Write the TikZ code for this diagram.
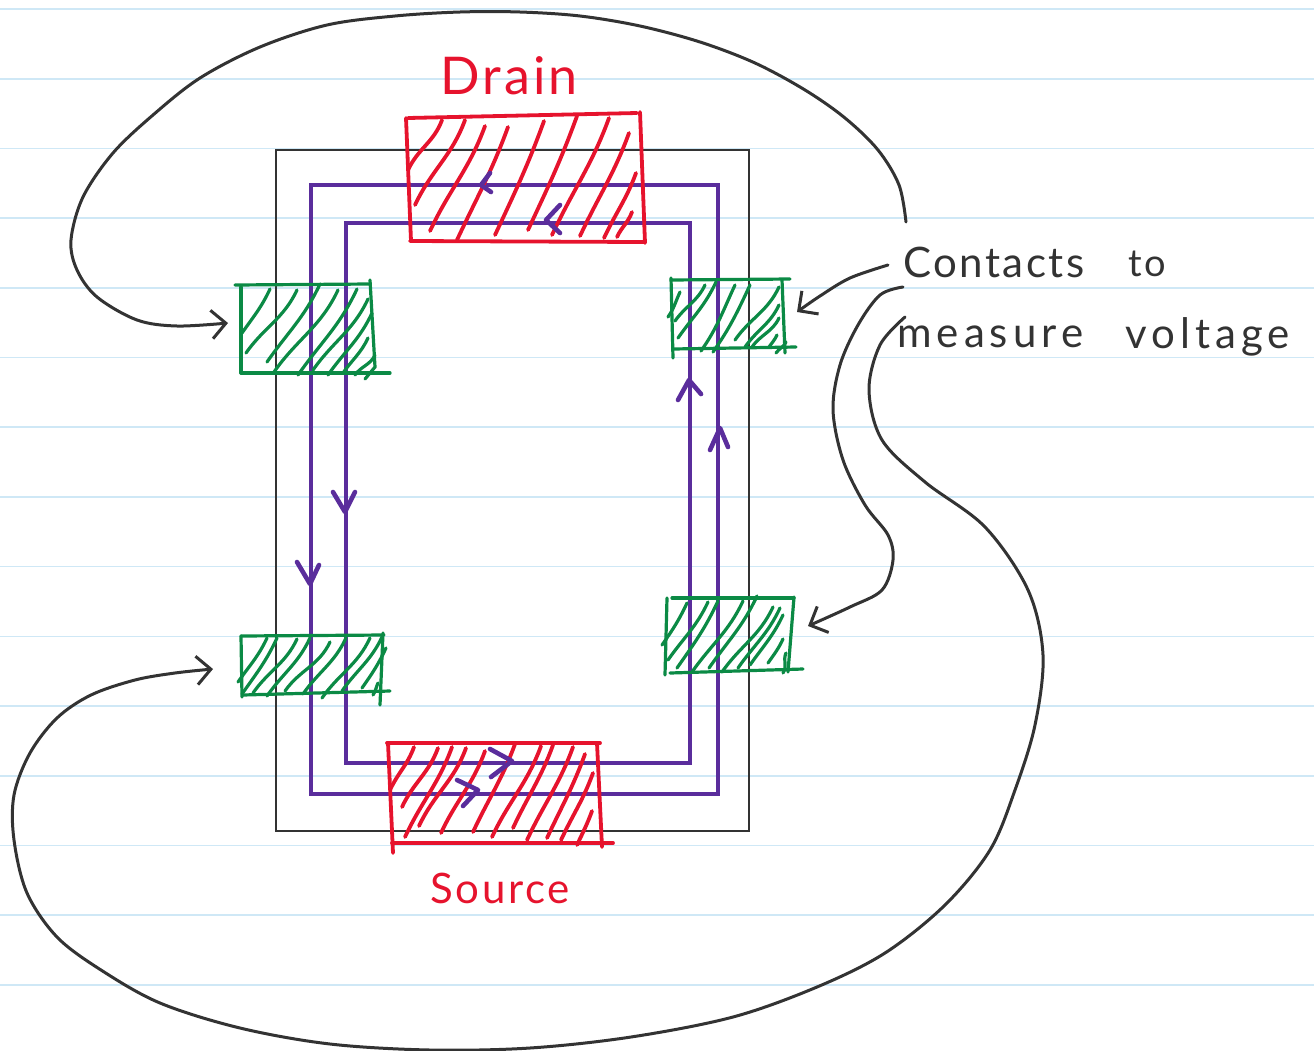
\documentclass[tikz,border=0pt]{standalone}
\usepackage{fontspec}
\usepackage{xcolor}
\usetikzlibrary{arrows.meta}
\newfontfamily\handfont[LetterSpace=6]{Lato}
\newfontfamily\widehandfont[LetterSpace=12]{Lato}
\definecolor{padred}{HTML}{E6132D}
\definecolor{padgreen}{HTML}{0B8A45}
\definecolor{flowpurple}{HTML}{5A2D9C}
\definecolor{inkgray}{HTML}{333333}
\definecolor{rulingblue}{HTML}{CFE8F6}
\tikzset{
    ruling/.style={rulingblue, line width=1.6pt},
    device/.style={inkgray, line width=2.7pt},
    channel/.style={flowpurple, line width=3.3pt},
    flowtip/.style={flowpurple, line width=4.6pt, line cap=round, line join=round},
    redpad/.style={padred, line width=3.8pt, line cap=round},
    redstroke/.style={redpad, out=250, in=65},
    greenpad/.style={padgreen, line width=3.2pt, line cap=round},
    greenstroke/.style={greenpad, out=245, in=55},
    wire/.style={inkgray, line width=3pt, line cap=round},
    lead/.style={wire, -{Straight Barb[length=5mm,width=10mm,line width=3pt]}},
    padlabel/.style={padred, inner sep=0pt},
    notelabel/.style={inkgray, inner sep=0pt, anchor=west}
}
\begin{document}
\begin{tikzpicture}[x=1pt,y=-1pt]
    \useasboundingbox (0,0) rectangle (1314,1050);

    % ruled paper
    \foreach \k in {0,...,14}
    {
        \draw[ruling] (0,9 + \k*69.7) -- (1314,9 + \k*69.7);
    }

    % device outline and the two channels
    \draw[device] (276,150) rectangle (749,831);
    \draw[channel] (311,185) rectangle (718,794);
    \draw[channel] (346,223) rectangle (690,763);

    % red contacts
    \draw[redpad] (408,118) -- (637,113);
    \draw[redpad] (640,112) -- (645,243);
    \draw[redpad] (644,242) -- (410,241);
    \draw[redpad] (406,118) -- (411,241);
    \foreach \xa/\ya/\xb/\yb in {442/120/408/170, 465/120/415/205, 485/126/430/231, 508/127/457/240, 544/121/495/235, 577/116/528/230, 609/118/552/235, 629/133/580/236, 636/173/604/238, 632/212/617/237}
    {
        \draw[redpad] (\xa,\ya) to[redstroke] (\xb,\yb);
    }

    \draw[redpad] (387,743) -- (600,743);
    \draw[redpad] (388,743) -- (393,853);
    \draw[redpad] (392,843) -- (613,843);
    \draw[redpad] (597,743) -- (602,847);
    \foreach \xa/\ya/\xb/\yb in {414/747/390/790, 438/748/402/807, 452/747/405/837, 466/748/419/826, 485/751/441/833, 515/744/473/832, 541/746/492/837, 553/745/513/828, 573/747/527/840, 585/754/547/838, 593/773/561/840, 592/811/577/845}
    {
        \draw[redpad] (\xa,\ya) to[redstroke] (\xb,\yb);
    }

    % green contacts
    \draw[greenpad] (235,285) -- (370,284);
    \draw[greenpad] (241,287) -- (241,373);
    \draw[greenpad] (241,373) -- (390,373);
    \draw[greenpad] (370,280) -- (375,367) -- (365,379);
    \foreach \xa/\ya/\xb/\yb in {270/289/242/333, 297/290/246/353, 320/284/267/362, 338/290/274/372, 357/289/298/375, 368/299/313/370, 372/313/328/375, 368/338/343/373, 375/355/355/375}
    {
        \draw[greenpad] (\xa,\ya) to[greenstroke] (\xb,\yb);
    }

    \draw[greenpad] (241,636) -- (384,635);
    \draw[greenpad] (241,636) -- (242,697);
    \draw[greenpad] (243,695) -- (390,691);
    \draw[greenpad] (383,633) -- (380,705);
    \foreach \xa/\ya/\xb/\yb in {267/638/238/682, 277/638/242/694, 297/639/253/693, 310/638/267/696, 330/642/285/691, 346/638/303/694, 370/638/322/698, 382/637/342/691, 386/648/362/688, 378/683/373/695}
    {
        \draw[greenpad] (\xa,\ya) to[greenstroke] (\xb,\yb);
    }

    \draw[greenpad] (671,280) -- (790,279);
    \draw[greenpad] (671,278) -- (673,358);
    \draw[greenpad] (673,349) -- (796,347);
    \draw[greenpad] (782,280) -- (785,353);
    \foreach \xa/\ya/\xb/\yb in {680/292/668/317, 705/285/675/321, 716/282/678/338, 735/285/701/351, 750/285/713/352, 779/287/735/340, 779/305/745/347, 779/318/752/347, 777/335/769/347, 786/342/776/353}
    {
        \draw[greenpad] (\xa,\ya) to[greenstroke] (\xb,\yb);
    }

    \draw[greenpad] (672,598) -- (794,598);
    \draw[greenpad] (667,598) -- (665,675);
    \draw[greenpad] (670,673) -- (803,669);
    \draw[greenpad] (794,597) -- (788,672);
    \foreach \xa/\ya/\xb/\yb in {687/603/662/645, 708/602/668/660, 718/601/677/668, 743/601/692/672, 757/596/709/668, 773/607/722/672, 780/608/738/668, 783/615/750/665, 783/639/768/663, 786/653/783/673}
    {
        \draw[greenpad] (\xa,\ya) to[greenstroke] (\xb,\yb);
    }

    % current direction
    \foreach \xa/\ya/\xt/\yt/\xb/\yb in {490/173/481/185/491/192, 560/205/546/220/560/233, 297/562/310/584/319/565, 333/492/345/512/355/492, 678/400/689/380/701/394, 710/450/720/428/728/447, 457/780/478/790/463/806, 490/749/512/761/491/777}
    {
        \draw[flowtip] (\xa,\ya) -- (\xt,\yt) -- (\xb,\yb);
    }

    % labels
    \node[padlabel, font=\handfont\fontsize{52}{52}\selectfont] (drain) at (509,76) {Drain};
    \node[padlabel, font=\handfont\fontsize{42}{42}\selectfont] (source) at (500,888) {Source};
    \node[notelabel, font=\handfont\fontsize{42}{42}\selectfont] (contacts) at (903,262) {Contacts};
    \node[notelabel, font=\handfont\fontsize{38}{38}\selectfont] (to) at (1128,264) {to};
    \node[notelabel, font=\widehandfont\fontsize{42}{42}\selectfont] (measure) at (897,337) {measure};
    \node[notelabel, font=\widehandfont\fontsize{42}{42}\selectfont] (voltage) at (1125,337) {voltage};

    % ends of the leads
    \coordinate (leadA) at (906,222);
    \coordinate (leadB) at (888,265);
    \coordinate (leadC) at (903,287);
    \coordinate (leadD) at (905,317);
    \coordinate (padLT) at (228,323);
    \coordinate (padRT) at (797,312);
    \coordinate (padRB) at (808,626);
    \coordinate (padLB) at (213,669);

    \draw[lead] plot[smooth,tension=0.55] coordinates {(leadA) (899,185) (878,150) (845,118) (805,90) (755,63) (700,42) (640,26) (580,16) (520,12) (460,12) (395,16) (327,25) (260,47) (200,78) (153,115) (113,153) (83,197) (71,240) (77,270) (97,297) (137,320) (177,326) (padLT)};
    \draw[lead] plot[smooth,tension=0.55] coordinates {(leadB) (850,278) (820,296) (padRT)};
    \draw[lead] plot[smooth,tension=0.55] coordinates {(leadC) (880,295) (858,325) (840,365) (833,410) (843,460) (865,505) (888,535) (893,560) (882,590) (850,607) (padRB)};
    \draw[lead] plot[smooth,tension=0.55] coordinates {(leadD) (880,345) (869,390) (882,440) (925,482) (985,527) (1028,590) (1043,655) (1035,725) (1015,790) (990,850) (945,905) (885,953) (817,987) (733,1017) (631,1037) (530,1048) (430,1050) (330,1044) (240,1028) (160,1003) (101,970) (57,937) (27,893) (14,840) (14,795) (30,753) (57,718) (91,695) (135,680) (175,673) (padLB)};
\end{tikzpicture}
\end{document}
